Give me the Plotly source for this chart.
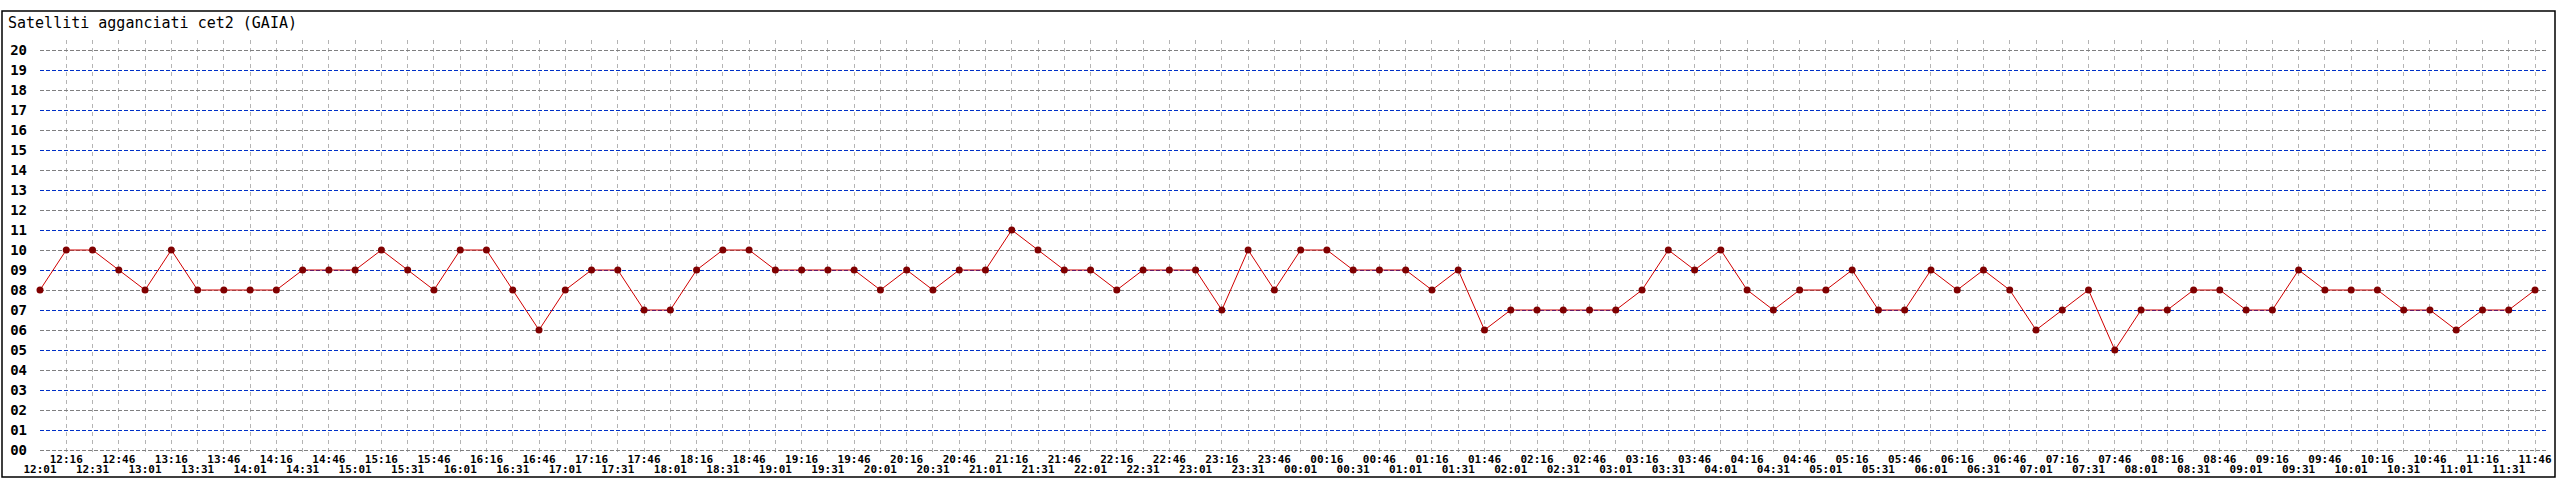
import plotly.graph_objects as go

title_text = "Satelliti agganciati cet2 (GAIA)"

times = [
    "12:01", "12:16", "12:31", "12:46", "13:01", "13:16", "13:31", "13:46",
    "14:01", "14:16", "14:31", "14:46", "15:01", "15:16", "15:31", "15:46",
    "16:01", "16:16", "16:31", "16:46", "17:01", "17:16", "17:31", "17:46",
    "18:01", "18:16", "18:31", "18:46", "19:01", "19:16", "19:31", "19:46",
    "20:01", "20:16", "20:31", "20:46", "21:01", "21:16", "21:31", "21:46",
    "22:01", "22:16", "22:31", "22:46", "23:01", "23:16", "23:31", "23:46",
    "00:01", "00:16", "00:31", "00:46", "01:01", "01:16", "01:31", "01:46",
    "02:01", "02:16", "02:31", "02:46", "03:01", "03:16", "03:31", "03:46",
    "04:01", "04:16", "04:31", "04:46", "05:01", "05:16", "05:31", "05:46",
    "06:01", "06:16", "06:31", "06:46", "07:01", "07:16", "07:31", "07:46",
    "08:01", "08:16", "08:31", "08:46", "09:01", "09:16", "09:31", "09:46",
    "10:01", "10:16", "10:31", "10:46", "11:01", "11:16", "11:31", "11:46",
]

satellites = [
    8, 10, 10, 9, 8, 10, 8, 8, 8, 8, 9, 9, 9, 10,
    9, 8, 10, 10, 8, 6, 8, 9, 9, 7, 7, 9, 10, 10, 9, 9, 9, 9, 8,
    9, 8, 9, 9, 11, 10, 9, 9, 8, 9, 9, 9, 7, 10, 8, 10, 10, 9, 9,
    9, 8, 9, 6, 7, 7, 7, 7, 7, 8, 10, 9, 10, 8, 7, 8, 8, 9, 7, 7,
    9, 8, 9, 8, 6, 7, 8, 5, 7, 7, 8, 8, 7, 7, 9, 8, 8, 8, 7, 7, 6, 7, 7, 8,
]

y_ticks = list(range(0, 21))
y_labels = ["%02d" % v for v in y_ticks]

idx = list(range(len(times)))
upper_text = [t if i % 2 == 1 else "" for i, t in enumerate(times)]
lower_vals = [i for i in idx if i % 2 == 0]
lower_text = [times[i] for i in lower_vals]

W, H = 2560, 480
L, R, T, B = 40, 13, 40, 27
spacing = (2535 - 40) / 95.0
x_end = (W - L - R) / spacing

fig = go.Figure()
fig.add_trace(go.Scatter(
    x=idx, y=satellites, mode="lines+markers",
    line=dict(color="#d00000", width=1),
    marker=dict(color="#800000", size=7, line=dict(width=0)),
    cliponaxis=False, showlegend=False, hoverinfo="skip",
))
fig.add_trace(go.Scatter(x=[0], y=[0], xaxis="x2", yaxis="y2", mode="markers",
                         marker=dict(opacity=0), showlegend=False, hoverinfo="skip"))

mono = "DejaVu Sans Mono"
tick_x = dict(family=mono, size=11, color="black", weight="bold")
tick_y = dict(family=mono, size=14, color="black", weight="bold")
fig.update_layout(
    width=W, height=H,
    margin=dict(l=L, r=R, t=T, b=B, autoexpand=False),
    paper_bgcolor="white", plot_bgcolor="white",
    title=dict(text=title_text, x=8 / W, xanchor="left", y=1 - 23 / H, yanchor="middle",
               font=dict(family=mono, size=15, color="black"), automargin=False),
    xaxis=dict(range=[0, x_end], tickmode="array", tickvals=idx, ticktext=upper_text,
               showgrid=True, gridcolor="#b4b4b4", griddash="4px,4px", gridwidth=1,
               zeroline=False, showline=False, ticks="", ticklabelstandoff=-2,
               tickfont=tick_x, tickangle=0, automargin=False),
    xaxis2=dict(range=[0, x_end], overlaying="x", side="bottom", tickmode="array",
                tickvals=lower_vals, ticktext=lower_text, showgrid=False,
                zeroline=False, showline=False, ticks="", ticklabelstandoff=8,
                tickfont=tick_x, tickangle=0, automargin=False),
    yaxis=dict(range=[-0.15, 20.5], tickmode="array",
               tickvals=[v for v in y_ticks if v % 2 == 0],
               ticktext=[y_labels[v] for v in y_ticks if v % 2 == 0],
               showgrid=True, gridcolor="#808080", griddash="4px,2px", gridwidth=1,
               zeroline=False, showline=False, ticks="", ticklabelstandoff=12,
               tickfont=tick_y, automargin=False),
    yaxis2=dict(range=[-0.15, 20.5], overlaying="y", side="left", tickmode="array",
                tickvals=[v for v in y_ticks if v % 2 == 1],
                ticktext=[y_labels[v] for v in y_ticks if v % 2 == 1],
                showgrid=True, gridcolor="#0030c8", griddash="4px,2px", gridwidth=1,
                zeroline=False, showline=False, ticks="", ticklabelstandoff=12,
                tickfont=tick_y, automargin=False),
)

fig.add_shape(type="rect", xref="paper", yref="paper",
              x0=(2 - L) / (W - L - R), x1=(2555 - L) / (W - L - R),
              y0=(H - B - 477) / (H - T - B), y1=(H - B - 11) / (H - T - B),
              line=dict(color="black", width=1.5), fillcolor="rgba(0,0,0,0)", layer="below")

fig.write_html("out.html", config={"displayModeBar": False, "staticPlot": True},
               post_script="document.body.style.margin='0px';document.body.style.overflow='hidden';")
